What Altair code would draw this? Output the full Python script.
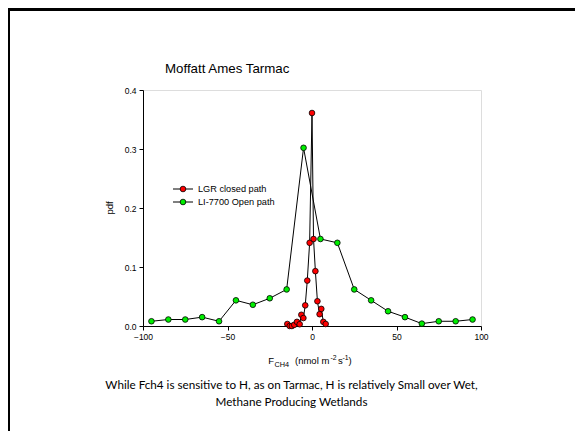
import altair as alt
import pandas as pd

# ---------------- data ----------------
li_x = [-95, -85, -75, -65, -55, -45, -35, -25, -15, -5, 5, 15, 25, 35, 45, 55, 65, 75, 85, 95]
li_pdf = [0.008, 0.011, 0.011, 0.015, 0.008, 0.0435, 0.036, 0.047, 0.062, 0.302,
          0.1475, 0.141, 0.062, 0.0435, 0.025, 0.015, 0.004, 0.008, 0.008, 0.011]

lgr_x = [-14.6, -13.2, -11.9, -10.5, -8.9, -7.3, -6.3, -5.1, -4.0, -2.8, -1.4, 0.0,
         0.9, 2.0, 3.2, 4.5, 5.5, 6.7, 8.1]
lgr_pdf = [0.0034, 0.0, 0.0, 0.002, 0.007, 0.003, 0.019, 0.0135, 0.035, 0.077, 0.141,
           0.361, 0.1475, 0.093, 0.042, 0.020, 0.029, 0.007, 0.0034]

series_names = ["LGR closed path", "LI-7700 Open path"]
series_colors = ["#ff0000", "#00ee00"]

x_ticks = [-100, -50, 0, 50, 100]
y_ticks = [0.0, 0.1, 0.2, 0.3, 0.4]

title_text = "Moffatt Ames Tarmac"
y_title = "pdf"
caption_lines = [
    "While Fch4 is sensitive to H, as on Tarmac, H is relatively Small over Wet,",
    "Methane Producing Wetlands",
]

# ---------------- chart ----------------
W, H = 338, 236
FONT = "Liberation Sans"

li_df = pd.DataFrame({"x": li_x, "pdf": li_pdf})
lgr_df = pd.DataFrame({"x": lgr_x, "pdf": lgr_pdf})

xs = alt.Scale(domain=[-100, 100], nice=False, zero=False, padding=0)
ys = alt.Scale(domain=[0, 0.4], nice=False, padding=0)

xenc = alt.X("x:Q", scale=xs, axis=alt.Axis(values=x_ticks, title=None, grid=False,
                                            labelFontSize=8.5, labelFont=FONT,
                                            labelColor="black", tickColor="black",
                                            domainColor="black", tickSize=4,
                                            labelPadding=2, labelFlush=False,
                                            labelOverlap=False))
yenc = alt.Y("pdf:Q", scale=ys, axis=alt.Axis(values=y_ticks, format=".1f", title=None,
                                              grid=False, labelFontSize=8.5,
                                              labelFont=FONT, labelColor="black",
                                              tickColor="black", domainColor="black",
                                              tickSize=4, labelPadding=3,
                                              labelFlush=False, labelOverlap=False))


def series_layers(df, color):
    base = alt.Chart(df)
    line = base.mark_line(color="black", strokeWidth=1).encode(x=xenc, y=yenc)
    pts = base.mark_point(filled=True, fill=color, stroke="black", strokeWidth=0.8,
                          size=32, opacity=1).encode(x=xenc, y=yenc)
    return [line, pts]


layers = series_layers(li_df, series_colors[1]) + series_layers(lgr_df, series_colors[0])

# manual legend
one = pd.DataFrame({"a": [0]})
for i, (name, col) in enumerate(zip(series_names, series_colors)):
    yy = 99 + 13 * i
    layers.append(alt.Chart(one).mark_rule(color="black", strokeWidth=1).encode(
        x=alt.value(30), x2=alt.value(50), y=alt.value(yy)))
    layers.append(alt.Chart(one).mark_point(filled=True, fill=col, stroke="black",
                                             strokeWidth=0.8, size=32, opacity=1).encode(
        x=alt.value(40), y=alt.value(yy)))
    layers.append(alt.Chart(pd.DataFrame({"t": [name]})).mark_text(
        align="left", baseline="middle", font=FONT, fontSize=9.2, color="black").encode(
        text="t:N", x=alt.value(55), y=alt.value(yy)))

# title
layers.append(alt.Chart(pd.DataFrame({"t": [title_text]})).mark_text(
    align="left", baseline="alphabetic", font=FONT, fontSize=13.3, color="black").encode(
    text="t:N", x=alt.value(22), y=alt.value(-17)))

# y title
layers.append(alt.Chart(pd.DataFrame({"t": [y_title]})).mark_text(
    align="center", baseline="middle", font=FONT, fontSize=9.5, angle=270,
    color="black").encode(text="t:N", x=alt.value(-33.5), y=alt.value(H / 2)))

# x title pieces (with sub/superscripts)
xt_pieces = [("F", 125.3, 274, 9.5), ("CH4", 131.5, 276.5, 7.3),
             ("(nmol m", 152, 274, 9.5), ("-2", 187.5, 270, 6.8),
             ("s", 195, 274, 9.5), ("-1", 199.5, 270, 6.8), (")", 205.5, 274, 9.5)]
for t, px, py, fs in xt_pieces:
    layers.append(alt.Chart(pd.DataFrame({"t": [t]})).mark_text(
        align="left", baseline="alphabetic", font=FONT, fontSize=fs, color="black").encode(
        text="t:N", x=alt.value(px), y=alt.value(py)))

# caption
for i, line in enumerate(caption_lines):
    layers.append(alt.Chart(pd.DataFrame({"t": [line]})).mark_text(
        align="center", baseline="middle", font="Lato", fontSize=11.7, color="black").encode(
        text="t:N", x=alt.value(148.5), y=alt.value(295 + 17 * i)))

# slide frame (top and left edges)
layers.append(alt.Chart(one).mark_rule(color="black", strokeWidth=3).encode(
    x=alt.value(-134.5), y=alt.value(-82), y2=alt.value(400)))
layers.append(alt.Chart(one).mark_rule(color="black", strokeWidth=3).encode(
    x=alt.value(-136), x2=alt.value(450), y=alt.value(-80.5)))

chart = alt.layer(*layers).properties(
    width=W, height=H,
    autosize=alt.AutoSizeParams(type="none"),
    padding={"left": 135, "top": 82, "right": 94, "bottom": 105},
).configure_view(stroke="black", strokeWidth=1).configure(background="white")

chart.save("out.html", embed_options={"renderer": "svg", "actions": False})
